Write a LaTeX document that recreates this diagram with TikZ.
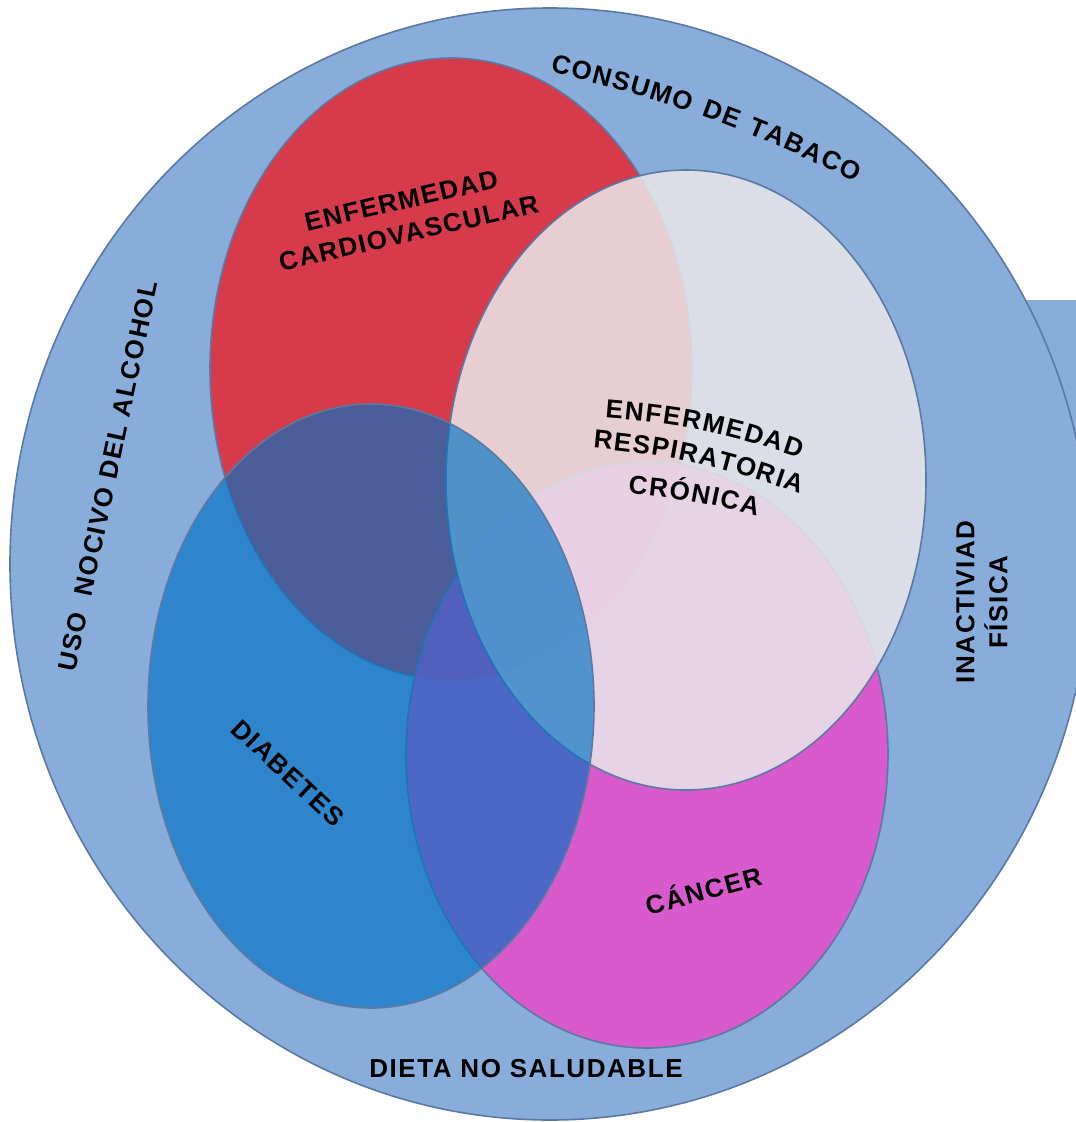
\documentclass[tikz,border=0pt]{standalone}
\usepackage{fontspec}
\setmainfont{Liberation Sans}
\newfontfamily\lblfont[LetterSpace=6]{Liberation Sans}
\usetikzlibrary{decorations.text}
\newcommand\lblsize{\fontsize{26}{33}\selectfont}
\definecolor{bgblue}{RGB}{136,173,218}
\definecolor{edgecol}{RGB}{91,122,163}
\definecolor{cvred}{RGB}{214,58,75}
\definecolor{cancermag}{RGB}{237,70,202}
\definecolor{respgray}{RGB}{233,231,234}
\definecolor{diabblue}{RGB}{0,113,195}
\begin{document}
\begin{tikzpicture}[x=1pt,y=-1pt,
  setline/.style={draw=edgecol, line width=1.6pt},
  lbl/.style={font=\lblfont\bfseries\lblsize, text=black, inner sep=0pt, align=center},
  curvetext/.style={decorate, decoration={text along path, text={|\lblfont\bfseries\lblsize|#1}, text align={fit to path}}}
]
\useasboundingbox (0,0) rectangle (1076,1122);
\clip (0,0) rectangle (1076,1122);
% background
\fill[bgblue] (1018,300) rectangle (1100,650);
\path[setline, fill=bgblue] (550,564) ellipse [x radius=540, y radius=556];
% sets
\path[setline, fill=cvred] (451,369) ellipse [x radius=241, y radius=311];
\path[setline, fill=cancermag, fill opacity=0.8] (647,755) ellipse [x radius=241, y radius=293];
\path[setline, fill=respgray, fill opacity=0.86] (686,480) ellipse [x radius=240, y radius=310];
\path[setline, fill=diabblue, fill opacity=0.65] (371,706) ellipse [x radius=223, y radius=302];
% outer labels
\coordinate (tabA) at (550,72);
\coordinate (tabB) at (856,182);
\path[curvetext={CONSUMO DE TABACO}] (tabA) to[bend left=6] (tabB);
\node[lbl, rotate=78] (alcohol) at (108,476) {USO~~NOCIVO DEL ALCOHOL};
\node[lbl, rotate=90] (inact) at (982,602) {INACTIVIAD\\FÍSICA};
\node[lbl] (dieta) at (526,1069) {DIETA NO SALUDABLE};
% inner labels
\node[lbl, rotate=13] (cardio) at (405,217) {ENFERMEDAD\\CARDIOVASCULAR};
\coordinate (r1a) at (605,418);
\coordinate (r1b) at (800,458);
\coordinate (r2a) at (593,448);
\coordinate (r2b) at (800,494);
\coordinate (r3a) at (628,494);
\coordinate (r3b) at (757,516);
\path[curvetext={ENFERMEDAD}] (r1a) to[bend left=7] (r1b);
\path[curvetext={RESPIRATORIA}] (r2a) to[bend left=7] (r2b);
\path[curvetext={CRÓNICA}] (r3a) to[bend left=5] (r3b);
\node[lbl, rotate=-43] (diab) at (288,773) {DIABETES};
\node[lbl, rotate=15] (cancer) at (703,889) {CÁNCER};
\end{tikzpicture}
\end{document}
